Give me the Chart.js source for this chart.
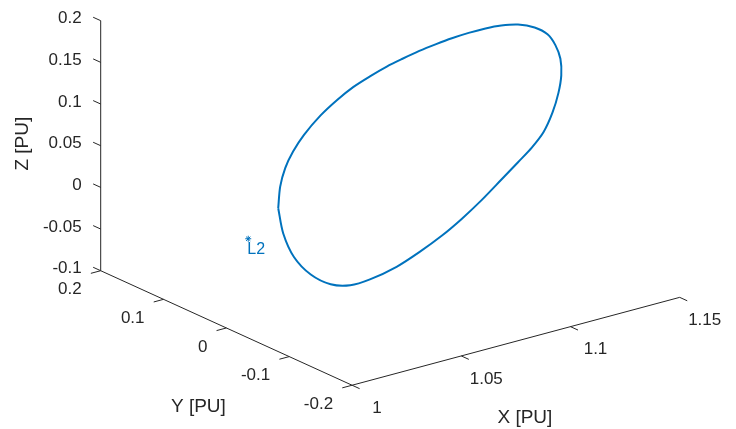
<!DOCTYPE html>
<html>
<head>
<meta charset="utf-8">
<title>Halo orbit about L2</title>
<script src="https://cdn.jsdelivr.net/npm/chart.js@4.4.1/dist/chart.umd.min.js"></script>
<style>
  html, body { margin: 0; padding: 0; background: #fff; }
  #wrap { width: 736px; height: 429px; }
</style>
</head>
<body>
<div id="wrap"><canvas id="orbitChart" width="736" height="429"></canvas></div>
<script>
// ---- orbit samples, one revolution [PU] ----
const orbitX = [1.0151, 1.0160, 1.0183, 1.0219, 1.0269, 1.0345, 1.0422, 1.0494, 1.0571, 1.0648,
                1.0720, 1.0797, 1.0874, 1.0946, 1.1023, 1.1100, 1.1172, 1.1249, 1.1325, 1.1384,
                1.1420, 1.1443, 1.1447, 1.1434, 1.1407, 1.1366, 1.1312, 1.1249, 1.1172, 1.1081,
                1.0991, 1.0901, 1.0797, 1.0693, 1.0571, 1.0481, 1.0391, 1.0300, 1.0223, 1.0174,
                1.0151];
const orbitY = [-0.03, -0.03, -0.03, -0.03, -0.03, -0.03, -0.03, -0.03, -0.03, -0.03,
                -0.03, -0.03, -0.03, -0.03, -0.03, -0.03, -0.03, -0.03, -0.03, -0.03,
                -0.03, -0.03, -0.03, -0.03, -0.03, -0.03, -0.03, -0.03, -0.03, -0.03,
                -0.03, -0.03, -0.03, -0.03, -0.03, -0.03, -0.03, -0.03, -0.03, -0.03,
                -0.03];
const orbitZ = [0.0434, 0.0686, 0.0893, 0.1066, 0.1231, 0.1411, 0.1545, 0.1646, 0.1721, 0.1784,
                0.1827, 0.1867, 0.1895, 0.1915, 0.1925, 0.1924, 0.1908, 0.1866, 0.1777, 0.1654,
                0.1499, 0.1319, 0.1117, 0.0916, 0.0700, 0.0494, 0.0345, 0.0214, 0.0057, -0.0126,
                -0.0285, -0.0421, -0.0547, -0.0650, -0.0716, -0.0723, -0.0648, -0.0467, -0.0202, 0.0114,
                0.0434];

// libration point
const l2Point = [1.01, 0, 0];
const l2Label = "L2";

// axes
const xLim = [1, 1.15];
const yLim = [-0.2, 0.2];
const zLim = [-0.1, 0.2];
const xTicks = [1, 1.05, 1.1, 1.15];
const yTicks = [-0.2, -0.1, 0, 0.1, 0.2];
const zTicks = [-0.1, -0.05, 0, 0.05, 0.1, 0.15, 0.2];
const xTickLabels = ["1", "1.05", "1.1", "1.15"];
const yTickLabels = ["-0.2", "-0.1", "0", "0.1", "0.2"];
const zTickLabels = ["-0.1", "-0.05", "0", "0.05", "0.1", "0.15", "0.2"];
const axisTitles = { x: "X [PU]", y: "Y [PU]", z: "Z [PU]" };

const BLUE = "#0072BD";
const INK = "#262626";
const FONT = "'Liberation Sans', Arial, Helvetica, sans-serif";

// default 3-D view (az -37.5, el 30) on a unit box
const AZ = -37.5 * Math.PI / 180;
const EL = 30 * Math.PI / 180;

function project(x, y, z) {
  const u = (x - xLim[0]) / (xLim[1] - xLim[0]);
  const v = (y - yLim[0]) / (yLim[1] - yLim[0]);
  const w = (z - zLim[0]) / (zLim[1] - zLim[0]);
  return {
    x: Math.cos(AZ) * u + Math.sin(AZ) * v,
    y: -Math.sin(EL) * Math.sin(AZ) * u + Math.sin(EL) * Math.cos(AZ) * v + Math.cos(EL) * w
  };
}

function segment(a, b) {
  return [project(...a), project(...b)];
}

const lineSet = (data, color, width) => ({
  data, showLine: true, borderColor: color, borderWidth: width,
  pointRadius: 0, fill: false, tension: 0
});

// axis lines
const datasets = [
  lineSet(segment([xLim[0], yLim[0], zLim[0]], [xLim[1], yLim[0], zLim[0]]), INK, 1),
  lineSet(segment([xLim[0], yLim[0], zLim[0]], [xLim[0], yLim[1], zLim[0]]), INK, 1),
  lineSet(segment([xLim[0], yLim[1], zLim[0]], [xLim[0], yLim[1], zLim[1]]), INK, 1)
];

// tick marks, pointing out of the box
const tk = 0.03;
xTicks.forEach(t => datasets.push(lineSet(segment(
  [t, yLim[0], zLim[0]], [t, yLim[0] - tk * (yLim[1] - yLim[0]), zLim[0]]), INK, 1)));
yTicks.forEach(t => datasets.push(lineSet(segment(
  [xLim[0], t, zLim[0]], [xLim[0] - tk * (xLim[1] - xLim[0]), t, zLim[0]]), INK, 1)));
zTicks.forEach(t => datasets.push(lineSet(segment(
  [xLim[0], yLim[1], t], [xLim[0], yLim[1] + tk * (yLim[1] - yLim[0]), t]), INK, 1)));

// the orbit
const orbit = orbitX.map((x, i) => project(x, orbitY[i], orbitZ[i]));
datasets.push(Object.assign(lineSet(orbit, BLUE, 2), { tension: 0.3 }));

// L2 marker
datasets.push({
  data: [project(...l2Point)], showLine: false,
  pointStyle: "star", pointRadius: 3, borderColor: BLUE, borderWidth: 1,
  backgroundColor: BLUE
});

// tick labels, axis titles and the L2 tag
const axisText = {
  id: "axisText",
  afterDatasetsDraw(chart) {
    const ctx = chart.ctx;
    const sx = chart.scales.x, sy = chart.scales.y;
    const pix = (x, y, z) => {
      const p = project(x, y, z);
      return [sx.getPixelForValue(p.x), sy.getPixelForValue(p.y)];
    };
    const put = (txt, x, y, align) => {
      ctx.textAlign = align;
      ctx.fillText(txt, x, y);
    };

    ctx.save();
    ctx.fillStyle = INK;
    ctx.textBaseline = "middle";
    ctx.font = "17px " + FONT;

    zTicks.forEach((t, i) => {
      const [x, y] = pix(xLim[0], yLim[1], t);
      put(zTickLabels[i], x - 19, y - 2, "right");
    });
    yTicks.forEach((t, i) => {
      const [x, y] = pix(xLim[0], t, zLim[0]);
      put(yTickLabels[i], x - 19, y + 19, "right");
    });
    xTicks.forEach((t, i) => {
      const [x, y] = pix(t, yLim[0], zLim[0]);
      put(xTickLabels[i], x + 25, y + 23, "center");
    });

    ctx.font = "19px " + FONT;
    const xm = (xLim[0] + xLim[1]) / 2, ym = (yLim[0] + yLim[1]) / 2, zm = (zLim[0] + zLim[1]) / 2;
    let [ax, ay] = pix(xm, yLim[0], zLim[0]);
    put(axisTitles.x, ax + 9, ay + 76, "center");
    [ax, ay] = pix(xLim[0], ym, zLim[0]);
    put(axisTitles.y, ax - 28, ay + 79, "center");
    [ax, ay] = pix(xLim[0], yLim[1], zm);
    ctx.translate(ax - 78, ay - 2);
    ctx.rotate(-Math.PI / 2);
    put(axisTitles.z, 0, 0, "center");
    ctx.setTransform(1, 0, 0, 1, 0, 0);

    ctx.fillStyle = BLUE;
    ctx.font = "16px " + FONT;
    const [lx, ly] = pix(...l2Point);
    put(l2Label, lx - 1, ly + 11, "left");
    ctx.restore();
  }
};

new Chart(document.getElementById("orbitChart"), {
  type: "scatter",
  data: { datasets },
  options: {
    responsive: false,
    animation: false,
    events: [],
    layout: { padding: 0 },
    plugins: { legend: { display: false }, tooltip: { enabled: false } },
    scales: {
      x: { type: "linear", display: false, min: -0.8405, max: 0.9176 },
      y: { type: "linear", display: false, min: -0.1343, max: 1.3170 }
    }
  },
  plugins: [axisText]
});
</script>
</body>
</html>
